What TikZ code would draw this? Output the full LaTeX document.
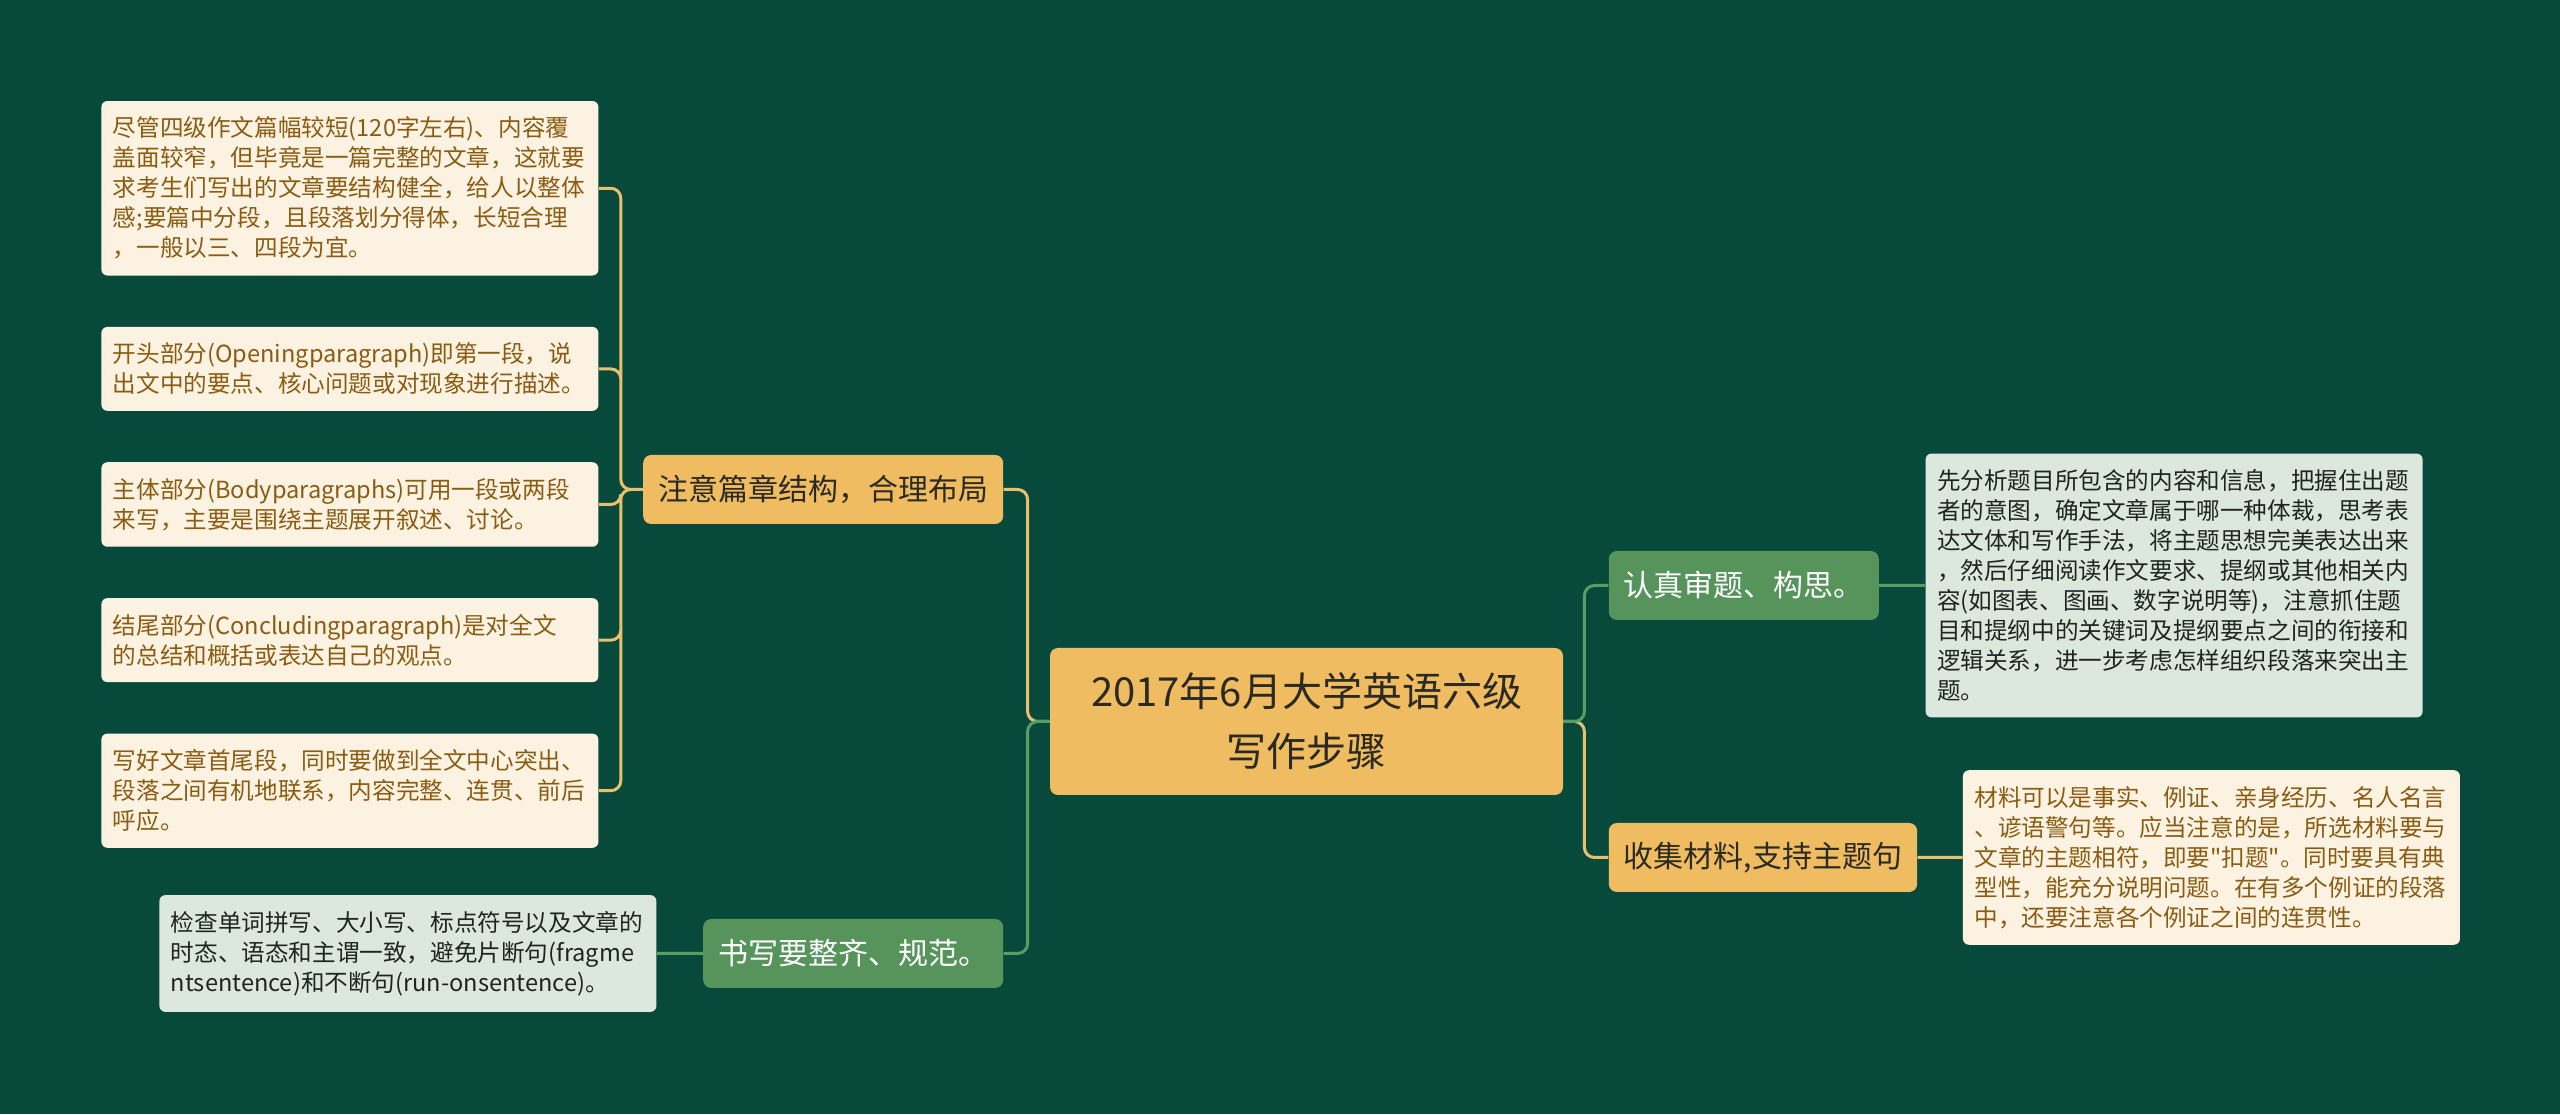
\documentclass[tikz,border=0pt]{standalone}
\usepackage{fontspec}
\setmainfont{Noto Sans CJK SC}[Ligatures=TeXOff]
\usepackage{xcolor}
\usepackage{tikz}
\usetikzlibrary{positioning}
\definecolor{bgcolor}{HTML}{07493A}
\definecolor{goldfill}{HTML}{F0BC62}
\definecolor{goldline}{HTML}{E8C070}
\definecolor{creamfill}{HTML}{FCF2E2}
\definecolor{creamtext}{HTML}{8A5C12}
\definecolor{greenfill}{HTML}{56945C}
\definecolor{greenline}{HTML}{5A9D62}
\definecolor{mintfill}{HTML}{DCE8DE}
\definecolor{minttext}{HTML}{1F2420}
\definecolor{darktext}{HTML}{2A2A22}
\tikzset{root node/.style={rectangle,rounded corners=4pt,fill=goldfill,text=darktext,align=center,
    minimum width=256.5pt,minimum height=73.5pt,inner sep=2pt,font=\fontsize{20pt}{30pt}\selectfont},
  gold node/.style={rectangle,rounded corners=4pt,fill=goldfill,text=darktext,minimum height=34.5pt,
    inner xsep=7.5pt,inner ysep=2pt,font=\fontsize{15pt}{18pt}\selectfont},
  green node/.style={gold node,fill=greenfill,text=white},
  cream leaf/.style={rectangle,rounded corners=3pt,fill=creamfill,text=creamtext,align=left,
    text width=237pt,inner xsep=5.75pt,inner ysep=8pt,font=\fontsize{11.8pt}{15pt}\selectfont},
  mint leaf/.style={cream leaf,fill=mintfill,text=minttext},
  gold line/.style={draw=goldline,line width=1.5pt,rounded corners=5pt},
  green line/.style={draw=greenline,line width=1.5pt,rounded corners=5pt},}

\begin{document}
\begin{tikzpicture}[node distance=25.3pt]
    \fill[bgcolor] (0,0) rectangle (1280pt,557pt);
    \useasboundingbox (0,0) rectangle (1280pt,557pt);

    \node[root node] (main) at (653.25pt,196.25pt) {2017年6月大学英语六级\\写作步骤};

    \node[gold node] (structure) [left=23pt of main.west, yshift=116pt] {注意篇章结构，合理布局};
    \node[green node] (neat) [left=23pt of main.west, yshift=-116pt] {书写要整齐、规范。};
    \node[green node] (review) [right=22.5pt of main.east, yshift=68pt] {认真审题、构思。};
    \node[gold node] (material) [right=22.5pt of main.east, yshift=-68pt] {收集材料,支持主题句};

    \node[cream leaf] (body) [left=22pt of structure, yshift=-7.5pt] {主体部分(Bodyparagraphs)可用一段或两段\\来写，主要是围绕主题展开叙述、讨论。};
    \node[cream leaf] (opening) [above=of body] {开头部分(Openingparagraph)即第一段，说\\出文中的要点、核心问题或对现象进行描述。};
    \node[cream leaf] (whole) [above=of opening] {尽管四级作文篇幅较短(120字左右)、内容覆\\盖面较窄，但毕竟是一篇完整的文章，这就要\\求考生们写出的文章要结构健全，给人以整体\\感;要篇中分段，且段落划分得体，长短合理\\，一般以三、四段为宜。};
    \node[cream leaf] (ending) [below=of body] {结尾部分(Concludingparagraph)是对全文\\的总结和概括或表达自己的观点。};
    \node[cream leaf] (unity) [below=of ending] {写好文章首尾段，同时要做到全文中心突出、\\段落之间有机地联系，内容完整、连贯、前后\\呼应。};
    \node[mint leaf] (check) [left=23pt of neat] {检查单词拼写、大小写、标点符号以及文章的\\时态、语态和主谓一致，避免片断句(fragme\\ntsentence)和不断句(run-onsentence)。};
    \node[mint leaf] (analyse) [right=23pt of review] {先分析题目所包含的内容和信息，把握住出题\\者的意图，确定文章属于哪一种体裁，思考表\\达文体和写作手法，将主题思想完美表达出来\\，然后仔细阅读作文要求、提纲或其他相关内\\容(如图表、图画、数字说明等)，注意抓住题\\目和提纲中的关键词及提纲要点之间的衔接和\\逻辑关系，进一步考虑怎样组织段落来突出主\\题。};
    \node[cream leaf] (evidence) [right=22.5pt of material] {材料可以是事实、例证、亲身经历、名人名言\\、谚语警句等。应当注意的是，所选材料要与\\文章的主题相符，即要"扣题"。同时要具有典\\型性，能充分说明问题。在有多个例证的段落\\中，还要注意各个例证之间的连贯性。};

    \path[gold line]
    (main.west) -- ++(-11pt,0) |- (structure.east)
    (main.east) -- ++(10.5pt,0) |- (material.west)
    (structure.west) -- ++(-11pt,0) |- (whole.east)
    (structure.west) -- ++(-11pt,0) |- (opening.east)
    (structure.west) -- ++(-11pt,0) |- (body.east)
    (structure.west) -- ++(-11pt,0) |- (ending.east)
    (structure.west) -- ++(-11pt,0) |- (unity.east)
    (material.east) -- (evidence.west);
    \path[green line]
    (main.west) -- ++(-11pt,0) |- (neat.east)
    (main.east) -- ++(10.5pt,0) |- (review.west)
    (neat.west) -- (check.east)
    (review.east) -- (analyse.west);
\end{tikzpicture}
\end{document}
